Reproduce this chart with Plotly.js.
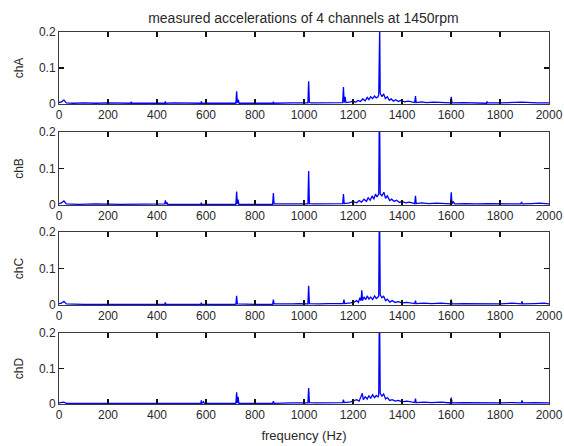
<!DOCTYPE html>
<html>
<head>
<meta charset="utf-8">
<script src="https://cdn.plot.ly/plotly-3.0.1.min.js"></script>
<style>html,body{margin:0;padding:0;background:#fff;}#chart{width:564px;height:446px;}</style>
</head>
<body>
<div id="chart"></div>
<script>
// ---- data ----
var channelNames = ['chA', 'chB', 'chC', 'chD'];
var xTickVals = [0, 200, 400, 600, 800, 1000, 1200, 1400, 1600, 1800, 2000];
var yTickVals = [0, 0.1, 0.2];
var yTickText = ['0', '0.1', '0.2'];

var freqA = [0,10,20,25,30,60,100,150,200,293,295,297,350,432,434,436,470,520,579,581,583,650,722,725,728,732,735,800,873,875,877,950,1016,1019,1022,1030,1080,1100,1130,1158,1161,1164,1168,1171,1190,1200,1210,1220,1230,1240,1250,1258,1265,1272,1280,1288,1295,1302,1305,1307,1309,1311,1318,1325,1332,1340,1348,1356,1365,1375,1385,1395,1410,1425,1440,1452,1455,1458,1480,1500,1530,1560,1598,1601,1604,1650,1700,1745,1747,1750,1800,1850,1890,1950,2000];
var ampA  = [0.004,0.006,0.011,0.008,0.003,0.002,0.003,0.002,0.003,0.002,0.006,0.002,0.002,0.002,0.007,0.002,0.003,0.002,0.002,0.007,0.002,0.002,0.002,0.035,0.003,0.012,0.002,0.002,0.002,0.006,0.002,0.003,0.003,0.063,0.004,0.003,0.004,0.003,0.005,0.004,0.047,0.004,0.02,0.004,0.006,0.008,0.005,0.01,0.007,0.014,0.009,0.018,0.012,0.02,0.015,0.022,0.017,0.02,0.025,0.21,0.21,0.03,0.02,0.028,0.015,0.02,0.01,0.014,0.008,0.012,0.007,0.01,0.006,0.008,0.005,0.004,0.022,0.004,0.006,0.004,0.005,0.004,0.003,0.02,0.003,0.004,0.003,0.002,0.007,0.003,0.003,0.004,0.005,0.003,0.003];

var freqB = [0,10,20,25,30,80,150,250,350,432,434,437,440,443,500,579,581,583,650,722,725,728,731,734,800,872,875,878,950,1016,1019,1022,1040,1080,1120,1140,1158,1161,1164,1185,1200,1215,1225,1235,1245,1255,1262,1270,1278,1285,1292,1298,1302,1305,1307,1309,1311,1318,1326,1333,1340,1350,1358,1368,1378,1390,1400,1415,1430,1445,1452,1455,1458,1480,1510,1540,1570,1598,1601,1604,1610,1614,1660,1700,1750,1800,1850,1885,1888,1891,1930,1960,2000];
var ampB  = [0.004,0.006,0.011,0.006,0.003,0.002,0.003,0.002,0.003,0.003,0.013,0.003,0.008,0.002,0.002,0.002,0.006,0.002,0.002,0.002,0.037,0.003,0.015,0.002,0.002,0.002,0.033,0.003,0.003,0.003,0.093,0.004,0.003,0.004,0.005,0.004,0.004,0.03,0.004,0.006,0.009,0.006,0.012,0.008,0.016,0.01,0.02,0.013,0.025,0.016,0.03,0.022,0.027,0.03,0.21,0.21,0.03,0.025,0.035,0.018,0.025,0.012,0.016,0.01,0.013,0.007,0.01,0.006,0.008,0.005,0.004,0.025,0.004,0.006,0.004,0.005,0.004,0.003,0.035,0.003,0.01,0.003,0.004,0.003,0.004,0.003,0.004,0.003,0.008,0.003,0.004,0.005,0.003];

var freqC = [0,10,20,25,30,100,200,300,432,434,436,500,579,581,583,650,722,725,728,800,872,875,878,950,980,1016,1019,1022,1060,1100,1140,1160,1163,1166,1190,1205,1215,1222,1228,1233,1236,1239,1245,1252,1258,1265,1272,1280,1288,1295,1302,1305,1307,1309,1311,1318,1325,1333,1340,1350,1360,1372,1385,1400,1420,1440,1452,1455,1458,1490,1520,1560,1598,1601,1604,1650,1700,1750,1800,1850,1887,1890,1893,1940,1980,2000];
var ampC  = [0.004,0.005,0.01,0.006,0.003,0.002,0.003,0.002,0.002,0.007,0.002,0.002,0.002,0.006,0.002,0.002,0.002,0.025,0.003,0.002,0.002,0.015,0.003,0.003,0.004,0.003,0.053,0.004,0.003,0.004,0.005,0.004,0.015,0.004,0.006,0.008,0.012,0.007,0.02,0.012,0.04,0.012,0.022,0.015,0.025,0.016,0.022,0.015,0.025,0.018,0.022,0.025,0.21,0.21,0.028,0.02,0.024,0.012,0.016,0.008,0.012,0.007,0.009,0.006,0.007,0.005,0.004,0.012,0.004,0.005,0.004,0.005,0.003,0.015,0.003,0.004,0.003,0.004,0.003,0.005,0.003,0.01,0.003,0.004,0.005,0.003];

var freqD = [0,10,20,30,100,200,300,400,500,579,581,583,590,593,650,722,725,728,731,734,800,872,875,878,950,1016,1019,1022,1050,1100,1140,1158,1161,1164,1190,1205,1215,1225,1232,1238,1242,1250,1258,1265,1272,1280,1288,1295,1302,1305,1307,1309,1311,1318,1325,1333,1340,1350,1360,1372,1385,1400,1420,1440,1452,1455,1458,1490,1520,1560,1598,1601,1604,1650,1700,1750,1800,1850,1887,1890,1893,1940,1980,2000];
var ampD  = [0.003,0.004,0.005,0.002,0.002,0.002,0.002,0.002,0.002,0.002,0.01,0.002,0.006,0.002,0.002,0.002,0.033,0.003,0.02,0.002,0.002,0.002,0.008,0.002,0.003,0.003,0.045,0.004,0.003,0.004,0.004,0.004,0.012,0.004,0.006,0.009,0.012,0.008,0.018,0.03,0.012,0.02,0.014,0.024,0.016,0.026,0.018,0.024,0.02,0.025,0.21,0.21,0.03,0.022,0.028,0.014,0.018,0.01,0.012,0.008,0.01,0.006,0.008,0.005,0.004,0.015,0.004,0.005,0.004,0.005,0.003,0.018,0.003,0.004,0.003,0.004,0.003,0.004,0.003,0.01,0.003,0.004,0.004,0.003];

var titleText = 'measured accelerations of 4 channels at 1450rpm';
var xLabelText = 'frequency (Hz)';

// ---- build ----
var freqs = [freqA, freqB, freqC, freqD];
var amps = [ampA, ampB, ampC, ampD];
var FONT = '"Liberation Sans", Arial, sans-serif';
var TXT = '#2a2a2a';
var LINE = '#3a3a3a';
var domains = [[0.8065, 1], [0.5349, 0.7312], [0.2661, 0.4624], [0, 0.1909]];

var traces = [];
var layout = {
  width: 564, height: 446,
  margin: {l: 59, r: 15, t: 32, b: 42},
  paper_bgcolor: '#ffffff', plot_bgcolor: '#ffffff',
  showlegend: false,
  font: {family: FONT, size: 12, color: TXT},
  title: {text: titleText, x: 0.538, xanchor: 'center', y: 0.96, yanchor: 'middle',
          font: {family: FONT, size: 14, color: TXT}}
};

for (var i = 0; i < 4; i++) {
  var sx = i === 0 ? '' : String(i + 1);
  traces.push({
    type: 'scatter', mode: 'lines',
    x: freqs[i], y: amps[i],
    xaxis: 'x' + sx, yaxis: 'y' + sx,
    line: {color: '#0000ff', width: 1.3},
    hoverinfo: 'skip'
  });
  var common = {
    showline: true, linecolor: LINE, linewidth: 1, mirror: 'ticks',
    ticks: 'inside', ticklen: 5, tickwidth: 1.2, tickcolor: '#111',
    showgrid: false, zeroline: false, fixedrange: true,
    tickfont: {family: FONT, size: 12, color: TXT}
  };
  var xa = Object.assign({}, common, {
    domain: [0, 1], range: [0, 2000], anchor: 'y' + sx,
    tickmode: 'array', tickvals: xTickVals, ticktext: xTickVals.map(String)
  });
  if (i === 3) xa.title = {text: xLabelText, font: {family: FONT, size: 13, color: TXT}, standoff: 9};
  var ya = Object.assign({}, common, {
    domain: domains[i], range: [0, 0.2], anchor: 'x' + sx,
    tickmode: 'array', tickvals: yTickVals, ticktext: yTickText,
    title: {text: channelNames[i], font: {family: FONT, size: 12, color: TXT}, standoff: 12}
  });
  layout['xaxis' + sx] = xa;
  layout['yaxis' + sx] = ya;
}

Plotly.newPlot('chart', traces, layout, {displayModeBar: false, staticPlot: true});
</script>
</body>
</html>
